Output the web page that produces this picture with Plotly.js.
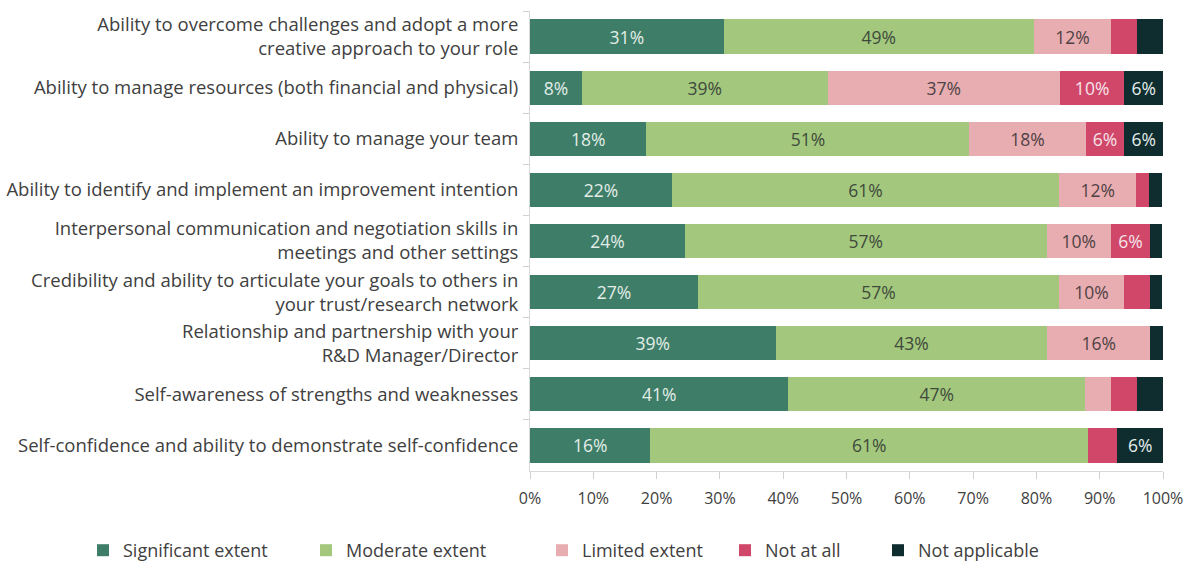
<!DOCTYPE html>
<html>
<head>
<meta charset="utf-8">
<script src="https://cdn.plot.ly/plotly-3.0.1.min.js"></script>
<style>html,body{margin:0;padding:0;background:#fff;}#chart{width:1202px;height:568px;}</style>
</head>
<body>
<div id="chart"></div>
<script>
const categories = [
  "Ability to overcome challenges and adopt a more<br>creative approach to your role",
  "Ability to manage resources (both financial and physical)",
  "Ability to manage your team",
  "Ability to identify and implement an improvement intention",
  "Interpersonal communication and negotiation skills in<br>meetings and other settings",
  "Credibility and ability to articulate your goals to others in<br>your trust/research network",
  "Relationship and partnership with your<br>R&D Manager/Director",
  "Self-awareness of strengths and weaknesses",
  "Self-confidence and ability to demonstrate self-confidence"
];
const seriesNames = ["Significant extent", "Moderate extent", "Limited extent", "Not at all", "Not applicable"];
// bar lengths (%) as drawn
const significant = [30.6, 8.2, 18.4, 22.4, 24.5, 26.5, 38.8, 40.8, 19.0];
const moderate    = [49.0, 38.8, 51.0, 61.2, 57.1, 57.1, 42.9, 46.9, 69.2];
const limited     = [12.2, 36.7, 18.4, 12.2, 10.2, 10.2, 16.3, 4.1, 0];
const notAtAll    = [4.1, 10.2, 6.1, 2.0, 6.1, 4.1, 0, 4.1, 4.6];
const notApplic   = [4.1, 6.1, 6.1, 2.0, 2.0, 2.0, 2.0, 4.1, 7.2];
// data labels as printed
const significantLabels = ["31%", "8%", "18%", "22%", "24%", "27%", "39%", "41%", "16%"];
const moderateLabels    = ["49%", "39%", "51%", "61%", "57%", "57%", "43%", "47%", "61%"];
const limitedLabels     = ["12%", "37%", "18%", "12%", "10%", "10%", "16%", "", ""];
const notAtAllLabels    = ["", "10%", "6%", "", "6%", "", "", "", ""];
const notApplicLabels   = ["", "6%", "6%", "", "", "", "", "", "6%"];
const xTickVals = [0, 10, 20, 30, 40, 50, 60, 70, 80, 90, 100];
const xTickText = ["0%", "10%", "20%", "30%", "40%", "50%", "60%", "70%", "80%", "90%", "100%"];

const colors = ["#3e7e69", "#a3c87d", "#e8adb1", "#d1476a", "#0f2d2e"];
const textColors = ["#e3ede7", "#3f4a3c", "#4f4244", "#f6e3e8", "#e4ecec"];
const values = [significant, moderate, limited, notAtAll, notApplic];
const labels = [significantLabels, moderateLabels, limitedLabels, notAtAllLabels, notApplicLabels];

const FONT = "'Open Sans', Lato, sans-serif";
const TXT = "#404040";
const W = 1202, H = 568;
// legend marker centres in px, converted to container fractions for each legend box
const legendCenters = [103, 326, 562, 745, 898];
const legendIds = ["legend", "legend2", "legend3", "legend4", "legend5"];

const traces = seriesNames.map((name, i) => ({
  type: "bar",
  orientation: "h",
  name: name,
  legend: legendIds[i],
  y: categories,
  x: values[i],
  text: labels[i],
  textposition: "inside",
  insidetextanchor: "middle",
  textangle: 0,
  constraintext: "none",
  textfont: {family: FONT, size: 17.5, color: textColors[i]},
  marker: {color: colors[i], line: {width: 0}},
  hoverinfo: "x+name"
}));

const layout = {
  width: W,
  height: H,
  barmode: "stack",
  bargap: 0.33,
  paper_bgcolor: "#ffffff",
  plot_bgcolor: "#ffffff",
  margin: {l: 530, r: 39, t: 11, b: 97, autoexpand: false},
  font: {family: FONT, size: 17, color: TXT},
  showlegend: true,
  xaxis: {
    range: [0, 100],
    tickvals: xTickVals,
    ticktext: xTickText,
    showgrid: false,
    zeroline: false,
    showline: true,
    linecolor: "#d9d9d9",
    linewidth: 1,
    ticks: "outside",
    ticklen: 7,
    tickcolor: "#d0d0d0",
    ticklabelstandoff: 6,
    tickfont: {family: FONT, size: 16, color: TXT},
    automargin: false,
    fixedrange: true
  },
  yaxis: {
    autorange: "reversed",
    showgrid: false,
    zeroline: false,
    showline: true,
    linecolor: "#d9d9d9",
    linewidth: 1,
    ticks: "outside",
    tickson: "boundaries",
    ticklen: 6,
    tickcolor: "#d0d0d0",
    ticklabelstandoff: 7,
    tickfont: {family: FONT, size: 18.5, color: TXT},
    automargin: false,
    fixedrange: true
  }
};
legendIds.forEach((id, i) => {
  layout[id] = {
    orientation: "h",
    xref: "container",
    yref: "container",
    x: (legendCenters[i] - 20) / W,
    xanchor: "left",
    y: (H - 532) / H,
    yanchor: "top",
    bgcolor: "rgba(0,0,0,0)",
    font: {family: FONT, size: 18, color: TXT}
  };
});

Plotly.newPlot("chart", traces, layout, {displayModeBar: false, staticPlot: true});
</script>
</body>
</html>
